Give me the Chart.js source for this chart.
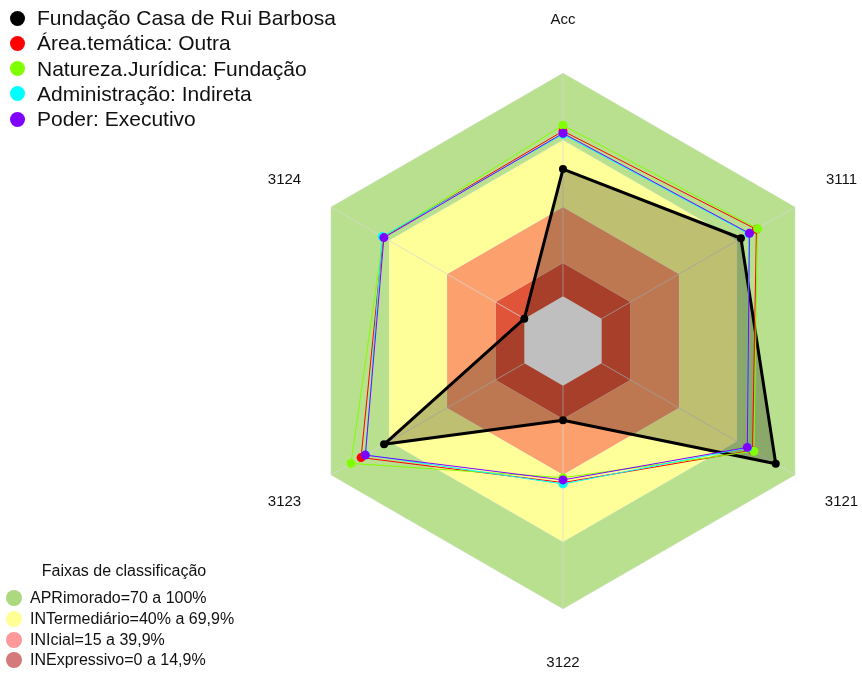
<!DOCTYPE html>
<html><head><meta charset="utf-8">
<script src="https://cdn.jsdelivr.net/npm/chart.js@4.4.1/dist/chart.umd.min.js"></script>
<style>
html,body{margin:0;padding:0;background:#fff;}
#wrap{position:relative;width:862px;height:675px;font-family:"Liberation Sans",Arial,sans-serif;color:#111;overflow:hidden;}
canvas{position:absolute;left:0;top:0;}
.row{position:absolute;white-space:nowrap;display:flex;align-items:center;}
.dot{display:inline-block;border-radius:50%;flex:none;}
#bandTitle{position:absolute;white-space:nowrap;text-align:center;}
</style></head><body>
<div id="wrap"><canvas id="c" width="862" height="675"></canvas>
<div id="topLegend"></div><div id="bandLegend"></div></div>
<script>
// ---- data ----
const axisLabels = ['Acc', '3111', '3121', '3122', '3123', '3124'];
const seriesNames = ['Fundação Casa de Rui Barbosa', 'Área.temática: Outra', 'Natureza.Jurídica: Fundação', 'Administração: Indireta', 'Poder: Executivo'];
const fundacaoCasaRuiBarbosa = [57, 72, 90, 15.5, 72.5, 0];
const areaTematicaOutra      = [74, 80, 78, 43.4, 84.4, 73];
const naturezaFundacao       = [76.6, 80.6, 78.7, 41.2, 89.6, 73];
const administracaoIndireta  = [72.5, 76, 75.5, 44, 82, 73.5];
const poderExecutivo         = [73, 76.4, 75.3, 42.2, 82.2, 72.6];
const seriesValues = [fundacaoCasaRuiBarbosa, areaTematicaOutra, naturezaFundacao, administracaoIndireta, poderExecutivo];
const scaleMin = -20, scaleMax = 100;
const bandTitle = 'Faixas de classificação';
const bandNames = ['APRimorado=70 a 100%', 'INTermediário=40% a 69,9%', 'INIcial=15 a 39,9%', 'INExpressivo=0 a 14,9%'];
const bandUpper = [100, 70, 40, 15];
const bandLower = [70, 40, 15, 0];

// ---- styles ----
const seriesColors = ['#000000', '#ff0000', '#80ff00', '#00ffff', '#8000ff'];
const bandFillColors = ['rgb(185,224,142)', 'rgb(255,255,153)', 'rgb(252,160,110)', 'rgb(224,85,58)'];
const bandLegendColors = ['rgb(172,216,128)', 'rgb(255,255,150)', 'rgb(255,152,152)', 'rgb(212,122,122)'];

const datasets = [];
seriesValues.forEach((vals, i) => {
  const isMain = i === 0;
  datasets.push({
    label: seriesNames[i],
    data: vals,
    borderColor: seriesColors[i],
    backgroundColor: isMain ? 'rgba(0,0,0,0.25)' : seriesColors[i],
    pointBackgroundColor: seriesColors[i],
    pointBorderColor: seriesColors[i],
    pointBorderWidth: 0,
    pointRadius: isMain ? 4 : 4.5,
    borderWidth: isMain ? 3 : 1,
    borderJoinStyle: 'round',
    fill: isMain ? 'start' : false,
    order: 5 - i
  });
});
const firstBandIndex = datasets.length;
bandUpper.forEach((u, i) => {
  datasets.push({
    label: bandNames[i],
    data: axisLabels.map(() => u),
    borderColor: 'rgba(225,225,225,0.5)',
    borderWidth: 0.8,
    backgroundColor: bandFillColors[i],
    pointRadius: 0,
    fill: {value: bandLower[i]},
    order: 20 + i
  });
});

// spokes from 0 to max, drawn over the bands but under the series
const spokes = {
  id: 'spokes',
  afterDatasetDraw(chart, args) {
    if (args.index !== firstBandIndex) return;
    const s = chart.scales.r, ctx = chart.ctx;
    ctx.save();
    ctx.strokeStyle = 'rgba(215,215,215,0.75)';
    ctx.lineWidth = 1;
    axisLabels.forEach((t, i) => {
      const a = s.getPointPositionForValue(i, 0);
      const b = s.getPointPositionForValue(i, scaleMax);
      ctx.beginPath(); ctx.moveTo(a.x, a.y); ctx.lineTo(b.x, b.y); ctx.stroke();
    });
    ctx.restore();
  }
};

const centeredLabels = {
  id: 'centeredLabels',
  afterDraw(chart) {
    const s = chart.scales.r, ctx = chart.ctx;
    ctx.save();
    ctx.font = '15px "Liberation Sans", Arial, sans-serif';
    ctx.fillStyle = '#111';
    ctx.textAlign = 'center';
    ctx.textBaseline = 'middle';
    axisLabels.forEach((t, i) => {
      const p = s.getPointPosition(i, s.drawingArea * 1.2);
      ctx.fillText(t, p.x, p.y);
    });
    ctx.restore();
  }
};

new Chart(document.getElementById('c'), {
  type: 'radar',
  data: {labels: axisLabels, datasets},
  options: {
    responsive: false,
    animation: false,
    devicePixelRatio: 1,
    layout: {padding: {left: 295, right: 31, top: 73, bottom: 66}},
    plugins: {legend: {display: false}, tooltip: {enabled: false}, filler: {propagate: false}},
    elements: {line: {tension: 0}},
    scales: {
      r: {
        min: scaleMin, max: scaleMax,
        ticks: {display: false},
        grid: {display: false},
        angleLines: {display: false},
        pointLabels: {display: false}
      }
    }
  },
  plugins: [spokes, centeredLabels]
});

// ---- legends (text) ----
const topLegendEl = document.getElementById('topLegend');
seriesNames.forEach((n, i) => {
  const r = document.createElement('div');
  r.className = 'row';
  r.style.left = '10px';
  r.style.top = (18 + i * 25.3 - 12) + 'px';
  r.style.height = '24px';
  r.style.fontSize = '21px';
  r.innerHTML = '<span class="dot" style="width:15px;height:15px;background:' + seriesColors[i] + ';margin-right:12px"></span><span>' + n + '</span>';
  topLegendEl.appendChild(r);
});
const bandLegendEl = document.getElementById('bandLegend');
const titleEl = document.createElement('div');
titleEl.id = 'bandTitle';
titleEl.style.left = '24px'; titleEl.style.width = '200px';
titleEl.style.top = (572 - 10) + 'px';
titleEl.style.fontSize = '16px';
titleEl.textContent = bandTitle;
bandLegendEl.appendChild(titleEl);
bandNames.forEach((n, i) => {
  const r = document.createElement('div');
  r.className = 'row';
  r.style.left = '6px';
  r.style.top = (598 + i * 20.8 - 10) + 'px';
  r.style.height = '20px';
  r.style.fontSize = '16px';
  r.innerHTML = '<span class="dot" style="width:16px;height:16px;background:' + bandLegendColors[i] + ';margin-right:8px"></span><span>' + n + '</span>';
  bandLegendEl.appendChild(r);
});
</script>
</body></html>
